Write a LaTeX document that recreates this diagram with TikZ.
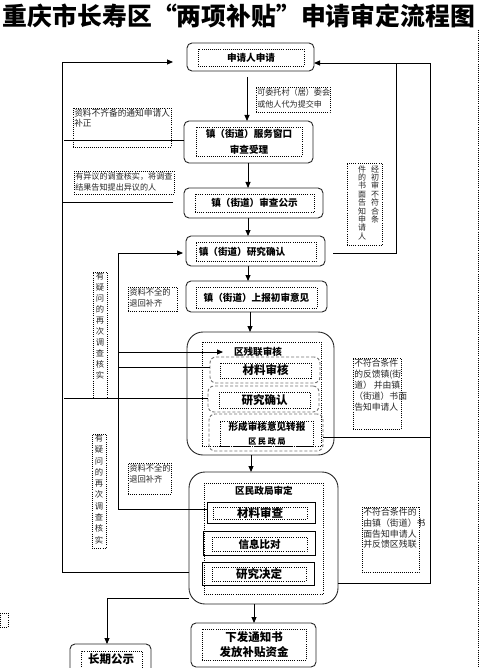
\documentclass[tikz,border=0pt]{standalone}
\usepackage{fontspec}
\newfontfamily\cjk{Noto Sans CJK SC}
\usetikzlibrary{arrows.meta}
\begin{document}
\begin{tikzpicture}[x=1pt,y=-1pt,line width=0.9pt,
  outerbox/.style={draw=black!85,rounded corners=5pt,inner sep=0pt,outer sep=0pt},
  bigbox/.style={draw=black!85,rounded corners=16pt,inner sep=0pt,outer sep=0pt},
  dotbox/.style={draw=black,line width=0.7pt,dash pattern=on 0.8pt off 1.3pt,inner sep=0pt,outer sep=0pt},
  dashbox/.style={draw=black!55,line width=0.9pt,dash pattern=on 3pt off 2pt,rounded corners=6pt,inner sep=0pt,outer sep=0pt},
  solbox/.style={draw=black,line width=0.9pt,inner sep=0pt,outer sep=0pt},
  btext/.style={font=\cjk\bfseries\fontsize{9.6}{16}\selectfont,align=center},
  ctext/.style={font=\cjk\bfseries\fontsize{11.5}{15}\selectfont,align=center},
  lab/.style={font=\cjk\fontsize{8.3}{11}\selectfont,align=left,inner sep=0.8pt,anchor=north west,text=black!85},
  vlab/.style={font=\cjk\fontsize{8.3}{11}\selectfont,align=center,inner sep=0pt,anchor=north,text=black!85},
  conn/.style={draw=black,line width=0.9pt},
  arr/.style={conn,-{Triangle[length=6pt,width=5pt]}}
]
\path[use as bounding box] (0,0) rectangle (485,668);

% title
\node[inner sep=0pt] (title) at (239,16) {\resizebox{472pt}{!}{\cjk\bfseries 重庆市长寿区“两项补贴”申请审定流程图}};
% right dotted edge and small artifact
\coordinate (edgeT) at (478,30);
\coordinate (edgeB) at (478,668);
\draw[dotbox] (edgeT) -- (edgeB);
\node[dotbox,minimum width=8pt,minimum height=14pt] (art) at (4,620) {};

% main boxes
\node[outerbox,minimum width=127pt,minimum height=28pt] (b1) at (250.5,57) {};
\node[dotbox,minimum width=106pt,minimum height=17pt,btext] (b1i) at (251,57.5) {申请人申请};

\node[outerbox,minimum width=129pt,minimum height=42pt] (b2) at (248.5,142) {};
\node[dotbox,minimum width=106pt,minimum height=29pt,btext] (b2i) at (249,141.5) {镇（街道）服务窗口\\审查受理};

\node[outerbox,minimum width=139pt,minimum height=30pt] (b3) at (253.5,203) {};
\node[dotbox,minimum width=119pt,minimum height=18pt,btext] (b3i) at (254.5,203) {镇（街道）审查公示};

\node[outerbox,minimum width=139pt,minimum height=30pt] (b4) at (255.5,251) {};
\node[dotbox,minimum width=120pt,minimum height=19pt] (b4i) at (256,251.5) {};
\node[btext,inner sep=0pt] (b4t) at (242,251.5) {镇（街道）研究确认};

\node[outerbox,minimum width=141pt,minimum height=31pt] (b5) at (256.5,296.5) {};
\node[dotbox,minimum width=121pt,minimum height=21pt,btext] (b5i) at (256.5,297.5) {镇（街道）上报初审意见};

% district disabled persons federation
\node[bigbox,minimum width=147pt,minimum height=123pt] (b6) at (260.5,393.5) {};
\node[dotbox,minimum width=119pt,minimum height=104pt] (b6i) at (261.5,394) {};
\node[btext,inner sep=0pt] (b6t) at (258,351.5) {区残联审核};
\node[dashbox,minimum width=110pt,minimum height=26pt] (d1) at (265,370) {};
\node[dotbox,minimum width=91pt,minimum height=15pt,ctext] (d1i) at (265.5,370.5) {材料审核};
\node[dashbox,minimum width=111pt,minimum height=26pt] (d2) at (263.5,399) {};
\node[dotbox,minimum width=91pt,minimum height=16pt,ctext] (d2i) at (264.5,400) {研究确认};
\node[dashbox,minimum width=114pt,minimum height=37pt] (d3) at (266,432.5) {};
\node[dotbox,minimum width=93pt,minimum height=25pt] (d3i) at (266.5,433.5) {};
\node[btext,font=\cjk\bfseries\fontsize{9.6}{14}\selectfont,inner sep=0pt] (d3t) at (267,434) {形成审核意见转报\\{\fontsize{8}{14}\selectfont 区 民 政 局}};

% district civil affairs bureau
\node[bigbox,minimum width=149pt,minimum height=132pt] (b7) at (263.5,538) {};
\node[dotbox,minimum width=119pt,minimum height=111pt] (b7i) at (263.5,538.5) {};
\node[btext,inner sep=0pt] (b7t) at (264,491) {区民政局审定};
\node[solbox,minimum width=108pt,minimum height=21pt] (s1) at (261,512.5) {};
\node[dotbox,minimum width=94pt,minimum height=12pt,ctext] (s1i) at (260,513) {材料审查};
\node[solbox,minimum width=112pt,minimum height=24pt] (s2) at (259,543) {};
\node[dotbox,minimum width=95pt,minimum height=14pt,btext,font=\cjk\bfseries\fontsize{10.5}{14}\selectfont] (s2i) at (259.5,544) {信息比对};
\node[solbox,minimum width=112pt,minimum height=23pt] (s3) at (258,573.5) {};
\node[dotbox,minimum width=94pt,minimum height=14pt,ctext] (s3i) at (259,574) {研究决定};

% final boxes
\node[outerbox,minimum width=81pt,minimum height=32pt] (b8) at (110.5,660) {};
\node[dotbox,minimum width=61pt,minimum height=25pt] (b8i) at (111.5,663.5) {};
\node[ctext,inner sep=0pt] (b8t) at (111,659) {长期公示};
\node[outerbox,minimum width=125pt,minimum height=44pt] (b9) at (253.5,645) {};
\node[dotbox,minimum width=104pt,minimum height=31pt,ctext] (b9i) at (254,644.5) {下发通知书\\发放补贴资金};

% labels
\node[dotbox,minimum width=74pt,minimum height=25pt] (L1) at (293,99.5) {};
\node[lab,font=\cjk\fontsize{8.1}{12}\selectfont] (L1t) at (L1.north west) {可委托村（居）委会\\或他人代为提交申};
\node[dotbox,minimum width=98pt,minimum height=39pt] (L2) at (122,127.5) {};
\node[lab,font=\cjk\fontsize{8.7}{10}\selectfont] (L2t) at (L2.north west) {资料不齐备的通知申请人\\补正};
\node[dotbox,minimum width=100pt,minimum height=23pt] (L3) at (124,182.5) {};
\node[lab,font=\cjk\fontsize{8.1}{11}\selectfont] (L3t) at (L3.north west) {有异议的调查核实，将调查\\结果告知提出异议的人};
\node[dotbox,minimum width=35pt,minimum height=82pt] (L4) at (364.5,204) {};
\node[vlab,font=\cjk\fontsize{8}{8.4}\selectfont] (L4a) at (375,165) {经\\初\\审\\不\\符\\合\\条};
\node[vlab,font=\cjk\fontsize{8}{8.4}\selectfont] (L4b) at (362,165) {件\\的\\书\\面\\告\\知\\申\\请\\人};
\node[dotbox,minimum width=49pt,minimum height=24pt] (L5) at (152.5,299) {};
\node[lab] (L5t) at (L5.north west) {资料不全的\\退回补齐};
\node[dotbox,minimum width=14pt,minimum height=126pt] (L6) at (100,335) {};
\node[vlab] (L6t) at (100,272.5) {有\\疑\\问\\的\\再\\次\\调\\查\\核\\实};
\node[dotbox,minimum width=48pt,minimum height=71pt] (L7) at (377,393.5) {};
\node[lab,font=\cjk\fontsize{8.8}{11}\selectfont] (L7t) at (L7.north west) {不符合条件\\的反馈镇(街\\道） 并由镇\\（街道）书面\\告知申请人};
\node[dotbox,minimum width=43pt,minimum height=31pt] (L8) at (149.5,478.5) {};
\node[lab] (L8t) at (L8.north west) {资料不全的\\退回补齐};
\node[dotbox,minimum width=14pt,minimum height=114pt] (L9) at (99,491) {};
\node[vlab,font=\cjk\fontsize{8.3}{11.3}\selectfont] (L9t) at (99,434) {有\\疑\\问\\的\\再\\次\\调\\查\\核\\实};
\node[dotbox,minimum width=57pt,minimum height=65pt] (L10) at (390.5,539.5) {};
\node[lab,font=\cjk\fontsize{8.9}{10.7}\selectfont] (L10t) at (L10.north west) {不符合条件的\\由镇（街道）书\\面告知申请人\\并反馈区残联};

% main downward arrows
\coordinate (a1s) at (247,77);
\draw[arr] (a1s) -- (b2.north -| a1s);
\draw[arr] (b2.south -| 248,0) -- (b3.north -| 248,0);
\draw[arr] (b3.south -| 248,0) -- (b4.north -| 248,0);
\draw[arr] (b4.south -| 248,0) -- (b5.north -| 248,0);
\draw[arr] (b5.south -| 250,0) -- (b6.north -| 250,0);
\draw[arr] (b6.south -| 251,0) -- (b7.north -| 251,0);
\draw[arr] (b7.south -| 254,0) -- (b9.north -| 254,0);
\draw[arr] (b7.west |- 0,598) -- (107,598) -- (b8.north -| 107,0);

% left outer loop
\coordinate (lt1) at (173,62);
\draw[arr] (b7.west |- 0,572) -- (62,572) -- (62,62) -- (lt1);
\draw[conn] (b2.west |- 0,140) -- (64,140);
\coordinate (lt3) at (173,202);
\draw[conn] (lt3) -- (62,202);
\draw[conn] (64,398) -- (d2.west |- 0,398);

% middle loop
\coordinate (mt4) at (183,253);
\coordinate (mt6) at (223,352);
\draw[arr] (s1.west |- 0,509) -- (118,509) -- (118,253) -- (mt4);
\draw[arr] (118,352) -- (mt6);
\draw[conn] (118,367) -- (d1.west |- 0,367);

% right loops
\coordinate (rb4) at (333,253);
\draw[arr] (rb4) -- (396,253) -- (396,63) -- (b1.east |- 0,63);
\draw[conn] (b7.east |- 0,583) -- (430,583) -- (430,63) -- (396,63);
\draw[conn] (d3.east |- 0,437) -- (430,437);
\end{tikzpicture}
\end{document}
